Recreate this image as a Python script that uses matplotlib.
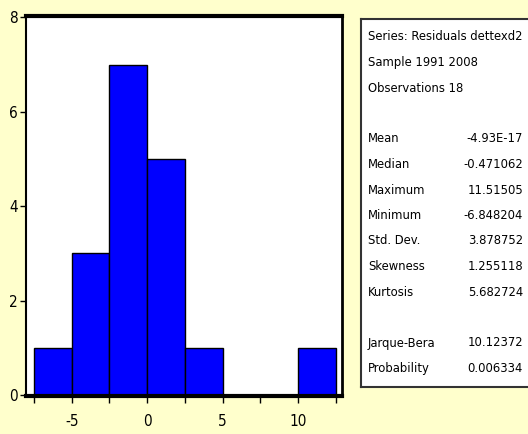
import numpy as np
import matplotlib
matplotlib.use("Agg")
import matplotlib.pyplot as plt
from matplotlib import font_manager

# histogram of residuals (EViews style)
bin_edges = [-7.5, -5.0, -2.5, 0.0, 2.5, 5.0, 7.5, 10.0, 12.5]
counts = [1, 3, 7, 5, 1, 0, 0, 1]
xtick_labels = ["", "-5", "", "0", "", "5", "", "10", ""]
ytick_labels = ["0", "2", "4", "6", "8"]

header_lines = ["Series: Residuals dettexd2", "Sample 1991 2008", "Observations 18"]
stat_names = ["Mean", "Median", "Maximum", "Minimum", "Std. Dev.", "Skewness", "Kurtosis"]
stat_values = ["-4.93E-17", "-0.471062", "11.51505", "-6.848204", "3.878752", "1.255118", "5.682724"]
test_names = ["Jarque-Bera", "Probability"]
test_values = ["10.12372", "0.006334"]

BG = "#FFFFCC"
plt.rcParams["font.family"] = ["DejaVu Sans"]
plt.rcParams["font.stretch"] = "condensed"

W, H = 528, 434
fig = plt.figure(figsize=(W / 100, H / 100), dpi=100, facecolor=BG)

def px(x0, y0, x1, y1):
    # pixel box (top-left origin) -> figure fraction rect
    return [x0 / W, 1 - y1 / H, (x1 - x0) / W, (y1 - y0) / H]

ax = fig.add_axes(px(26, 16, 342, 396))
ax.set_facecolor("white")
widths = np.diff(bin_edges)
ax.bar(bin_edges[:-1], counts, width=widths, align="edge",
       color="#0000FF", edgecolor="black", linewidth=1.0)

ax.set_xlim(-8.03, 12.9)
ax.set_ylim(-0.02, 8.03)
ax.set_xticks(bin_edges)
ax.set_xticklabels(xtick_labels)
ax.set_yticks([0, 2, 4, 6, 8])
ax.set_yticklabels(ytick_labels)
ax.tick_params(axis="both", direction="out", length=4, width=1, colors="black",
               labelsize=11, pad=2)
ax.tick_params(axis="x", length=5, pad=8)

for side, lw in [("top", 3), ("bottom", 3), ("left", 1.5), ("right", 2)]:
    ax.spines[side].set_linewidth(lw)
    ax.spines[side].set_color("black")

# statistics panel
box = fig.add_axes(px(361, 19, 560, 387))
box.set_facecolor("white")
box.set_xticks([])
box.set_yticks([])
for sp in box.spines.values():
    sp.set_color("#333333")
    sp.set_linewidth(1.5)

# size the panel font so the widest line fits like in the reference
fs = 11
probe = fig.text(0, 0, header_lines[0], fontsize=fs)
fig.canvas.draw()
w = probe.get_window_extent().width
probe.remove()
fs = min(fs, fs * 154 / w)

texts = []
row = 25.5
y = 37
for line in header_lines:
    fig.text(368 / W, 1 - y / H, line, fontsize=fs, va="center", ha="left")
    y += row
y += row
for name, val in zip(stat_names, stat_values):
    fig.text(368 / W, 1 - y / H, name, fontsize=fs, va="center", ha="left")
    fig.text(523 / W, 1 - y / H, val, fontsize=fs, va="center", ha="right")
    y += row
y += row
for name, val in zip(test_names, test_values):
    fig.text(368 / W, 1 - y / H, name, fontsize=fs, va="center", ha="left")
    fig.text(523 / W, 1 - y / H, val, fontsize=fs, va="center", ha="right")
    y += row

fig.savefig("out.png", dpi=100, facecolor=BG)
